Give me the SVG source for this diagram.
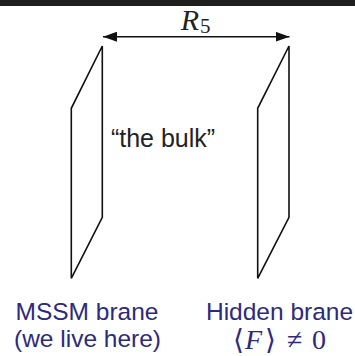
<svg xmlns="http://www.w3.org/2000/svg" width="355" height="356" viewBox="0 0 355 356">
<defs>
<style>
.brane{fill:none;stroke:#111;stroke-width:1.6;stroke-linejoin:miter}
.lbl{font-family:"Liberation Sans",Arial,sans-serif;font-size:24.5px;fill:#2d2a7c;text-anchor:middle}
.math{font-family:"Liberation Serif","Times New Roman",serif;fill:#2d2a7c;font-size:28px}
.brk{font-family:"DejaVu Serif",serif;font-weight:normal}
.conn{stroke:#111;stroke-width:1.6;fill:none}
</style>
<marker id="ah" viewBox="0 0 14 10" refX="14" refY="5" markerWidth="14" markerHeight="10" markerUnits="userSpaceOnUse" orient="auto-start-reverse">
<path d="M0,0 L14,5 L0,10 Z" fill="#111"/>
</marker>
</defs>
<rect x="0" y="0" width="355" height="6" fill="#1f1f1f"/>
<g id="connectors">
<line class="conn" x1="103" y1="36.7" x2="289.5" y2="36.7" marker-start="url(#ah)" marker-end="url(#ah)"/>
<text x="199" y="30" font-family="Liberation Serif,'Times New Roman',serif" font-style="italic" font-size="30" fill="#222" text-anchor="end">R</text>
<text x="200" y="32.5" font-family="Liberation Serif,'Times New Roman',serif" font-size="21" fill="#222">5</text>
</g>
<g id="mssm-brane">
<polygon class="brane" points="102.3,46 102.3,217.3 71.3,278.3 71.3,108.3"/>
<text class="lbl" x="87" y="320">MSSM brane</text>
<text class="lbl" x="87.5" y="347">(we live here)</text>
</g>
<g id="bulk">
<text x="163" y="147" font-family="Liberation Sans,Arial,sans-serif" font-size="25" fill="#222" text-anchor="middle">“the bulk”</text>
</g>
<g id="hidden-brane">
<polygon class="brane" points="289,46 289,217.3 257.7,278.3 257.7,108.3"/>
<text class="lbl" x="279.5" y="320">Hidden brane</text>
<text class="math" y="349"><tspan class="brk" x="233">⟨</tspan><tspan x="245" font-style="italic">F</tspan><tspan class="brk" x="265">⟩</tspan><tspan x="287">≠</tspan><tspan x="312">0</tspan></text>
</g>
</svg>
